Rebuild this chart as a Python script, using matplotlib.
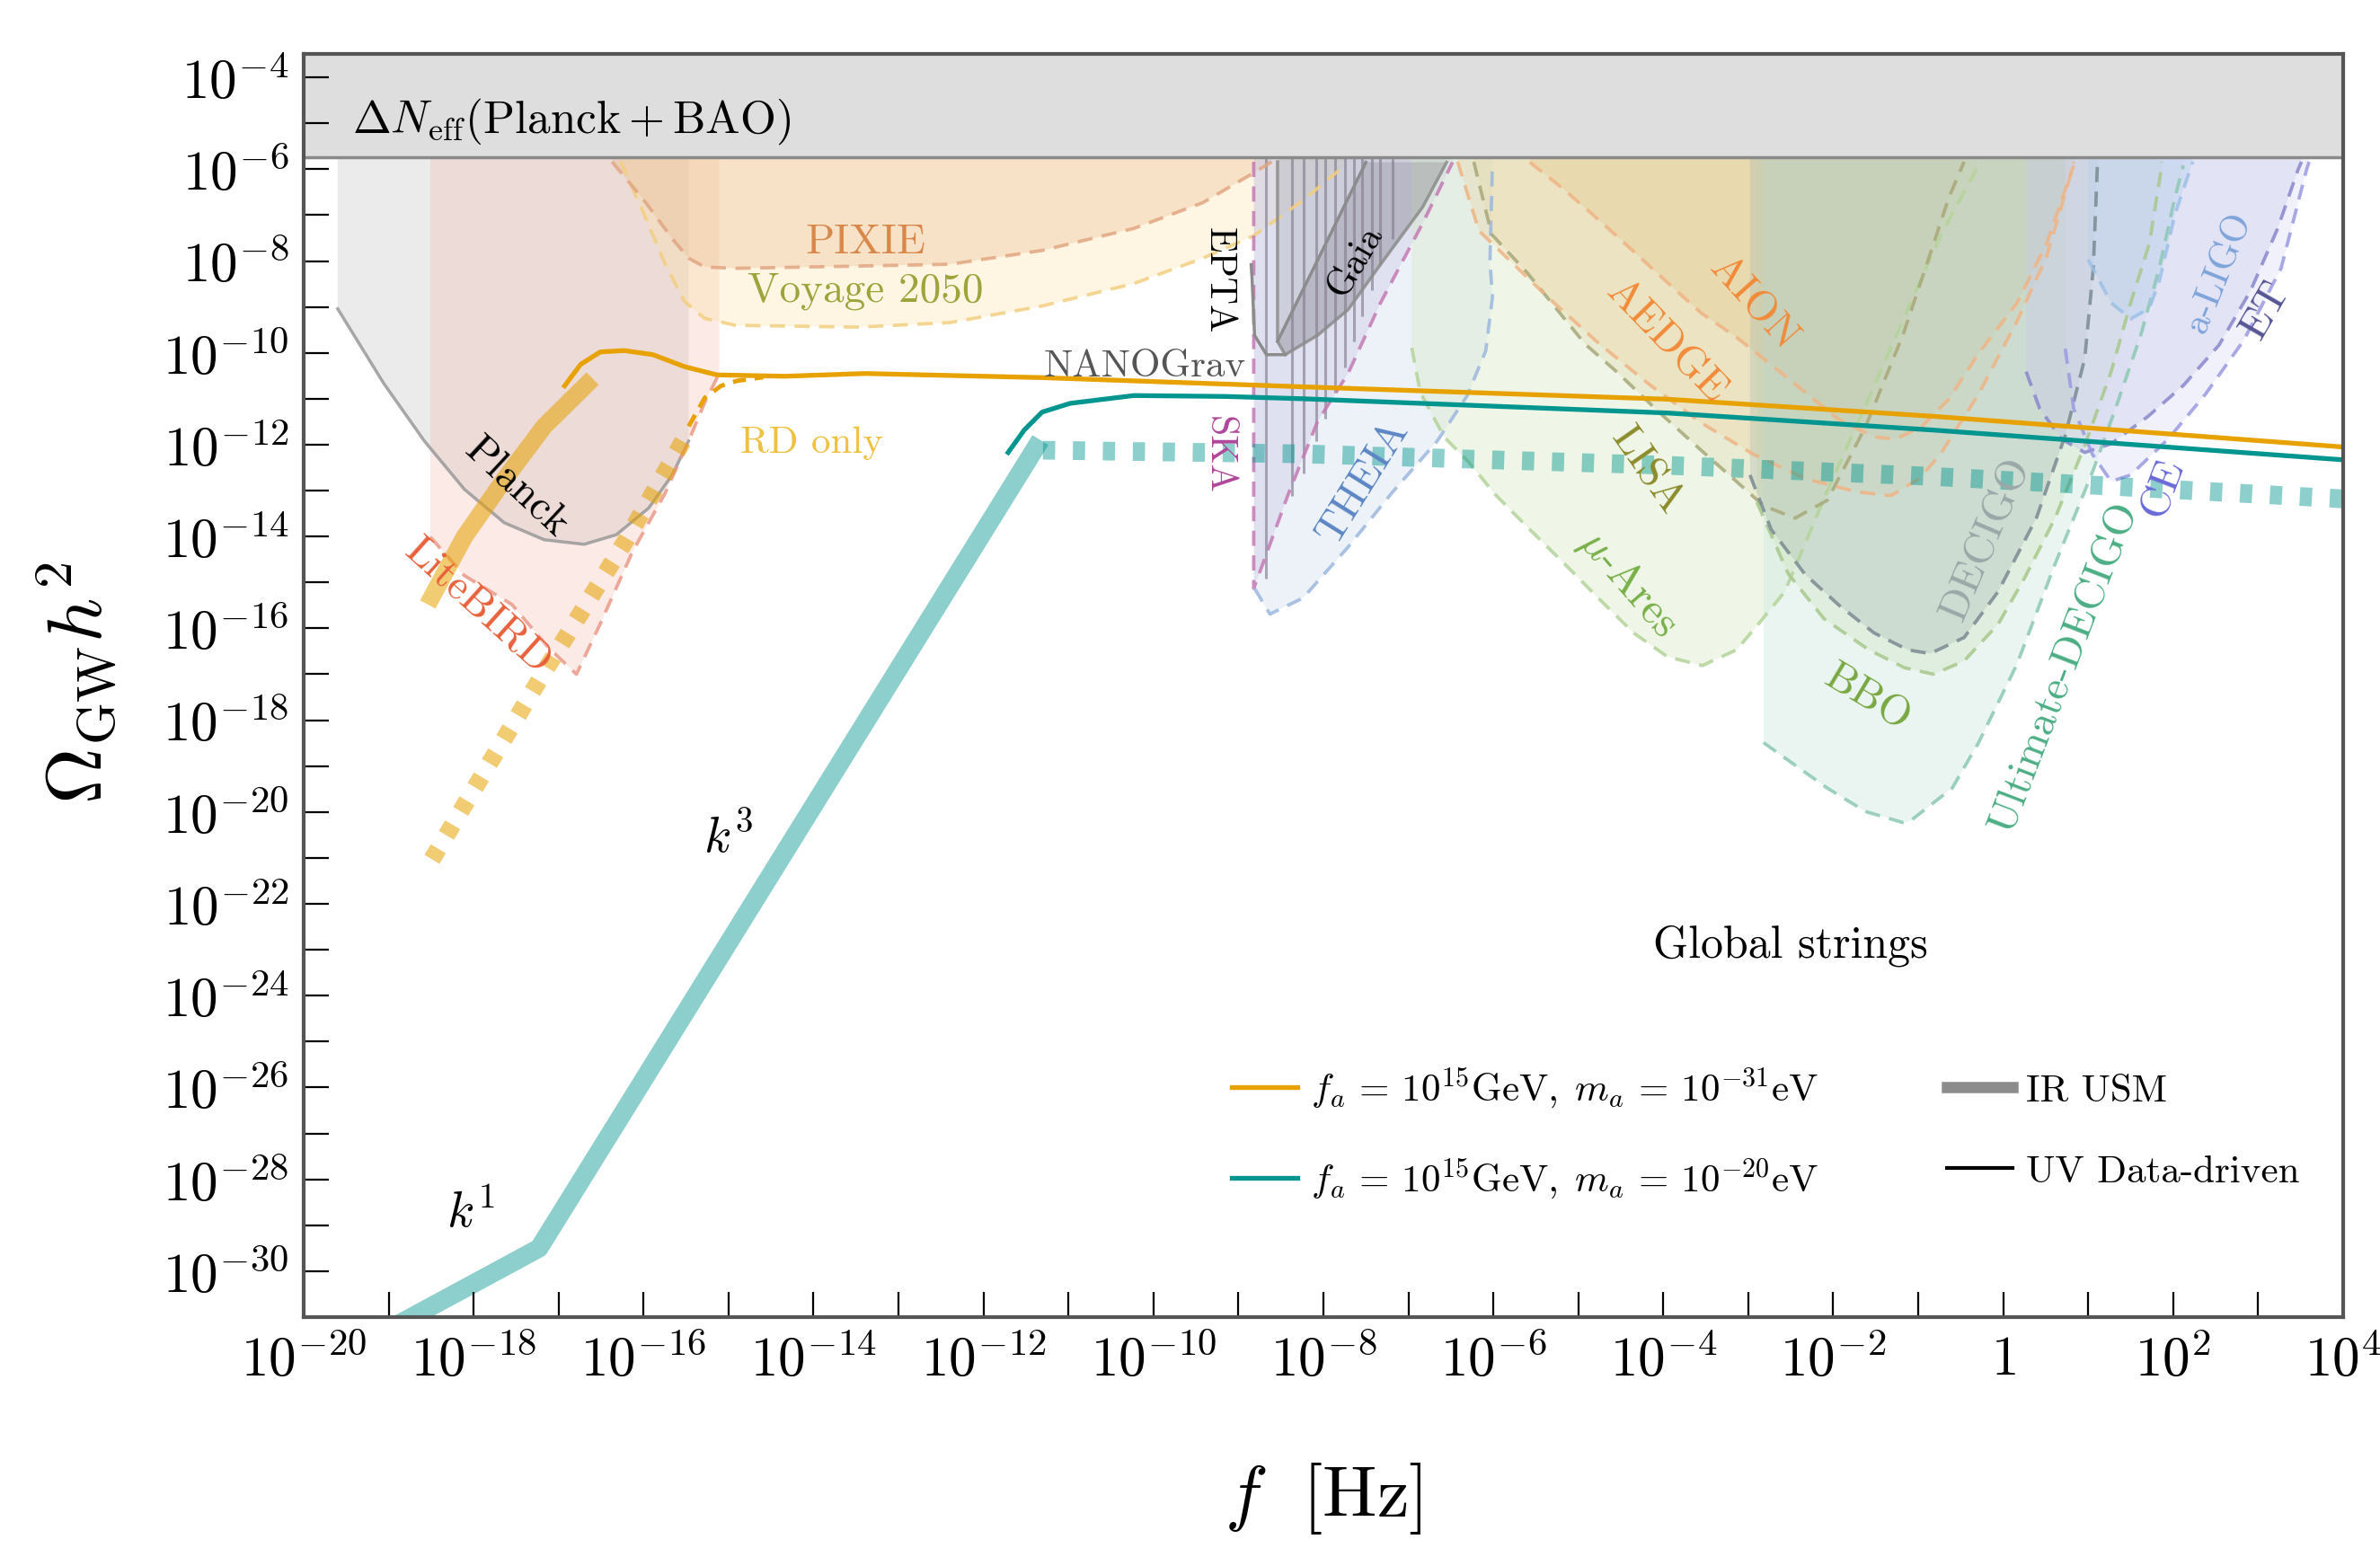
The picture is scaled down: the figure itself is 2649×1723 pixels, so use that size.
import numpy as np
import matplotlib.pyplot as plt
from matplotlib.lines import Line2D
from matplotlib.ticker import NullLocator

plt.rcParams['mathtext.fontset'] = 'cm'
plt.rcParams['font.family'] = 'cmr10'
plt.rcParams['axes.formatter.use_mathtext'] = True

# all values below are log10(f/Hz), log10(Omega_GW h^2)
TOP = -3.0          # regions are closed above the N_eff band
NEFF = -5.74        # Delta N_eff bound

# string spectra, m_a = 1e-31 eV (orange)
uv31_x = [-16.93, -16.74, -16.51, -16.23, -15.89, -15.52, -15.14, -14.34, -13.39, -11.31, -8.24, -3.95, -0.84, 4.0]
uv31_y = [-10.72, -10.25, -9.98, -9.95, -10.04, -10.30, -10.48, -10.51, -10.45, -10.54, -10.74, -11.01, -11.38, -12.05]
ir31_x = [-18.54, -18.11, -17.64, -17.17, -16.60]
ir31_y = [-15.48, -14.01, -12.76, -11.60, -10.56]
rd31_x = [-18.49, -17.17, -16.22, -15.47]
rd31_y = [-21.03, -16.95, -14.12, -11.71]
rdt31_x = [-15.47, -15.28, -15.09, -14.90, -14.59]
rdt31_y = [-11.60, -10.98, -10.72, -10.61, -10.53]

# string spectra, m_a = 1e-20 eV (teal)
uv20_x = [-11.71, -11.52, -11.31, -10.98, -10.23, -9.15, -8.24, -3.95, -0.84, 4.0]
uv20_y = [-12.17, -11.68, -11.29, -11.10, -10.93, -10.95, -11.00, -11.31, -11.68, -12.33]
ir20_x = [-19.0, -17.23, -11.33]
ir20_y = [-31.27, -29.50, -11.90]
rd20_x = [-11.30, -8.24, -3.95, -0.84, 4.0]
rd20_y = [-12.12, -12.20, -12.45, -12.69, -13.18]

# sensitivity curves
planck_x = [-19.60, -19.06, -18.58, -18.11, -17.64, -17.17, -16.70, -16.32, -15.94, -15.66, -15.47]
planck_y = [-9.04, -10.66, -11.92, -12.97, -13.70, -14.07, -14.17, -13.96, -13.38, -12.65, -11.92]
litebird_x = [-18.51, -18.11, -17.55, -17.12, -16.79, -16.51, -16.13, -15.75, -15.47, -15.28, -15.11]
litebird_y = [-14.01, -14.85, -15.48, -16.42, -17.00, -15.90, -14.33, -13.07, -11.92, -11.08, -10.45]
pixie_x = [-16.37, -15.99, -15.66, -15.47, -15.28, -14.92, -13.47, -12.39, -11.31, -10.23, -9.42, -8.82, -8.61]
pixie_y = [-5.84, -6.69, -7.52, -7.94, -8.13, -8.16, -8.11, -8.07, -7.77, -7.29, -6.73, -6.08, -5.84]
voyage_x = [-16.27, -15.99, -15.75, -15.52, -15.28, -14.92, -13.47, -12.39, -11.31, -10.23, -9.42, -8.82, -8.24, -7.75]
voyage_y = [-5.84, -7.00, -8.05, -8.88, -9.25, -9.40, -9.44, -9.34, -8.98, -8.49, -7.94, -7.45, -6.68, -5.92]
ska_x = [-8.82, -8.82, -8.68, -8.42, -8.07, -7.71, -7.33, -6.83, -6.48]
ska_y = [-5.84, -15.13, -14.43, -13.11, -11.50, -10.45, -8.92, -7.17, -5.85]
nanograv_x = [-8.68, -8.37, -8.23, -8.08, -7.98, -7.86, -7.75, -7.64, -7.54, -7.43, -7.33, -7.19]
nanograv_y = [-14.92, -13.11, -12.62, -11.92, -11.43, -10.87, -10.31, -9.76, -9.20, -8.64, -8.08, -7.52]
gaia_x = [-8.54, -8.54, -8.45, -8.07, -7.71, -7.33, -6.83, -6.55]
gaia_y = [-5.84, -9.75, -10.04, -9.62, -9.06, -8.08, -6.82, -5.85]
gaia_in_x = [-8.54, -7.50]
gaia_in_y = [-9.75, -5.85]
epta_x = [-8.85, -8.84, -8.81, -8.67, -8.45]
epta_y = [-8.08, -8.36, -9.62, -10.04, -10.04]
theia_x = [-8.81, -8.63, -8.24, -7.71, -7.19, -6.66, -6.31, -6.09, -6.01, -6.04, -6.01]
theia_y = [-15.13, -15.69, -15.34, -14.23, -13.04, -11.92, -10.94, -9.96, -8.78, -8.01, -5.84]
mu_ares_x = [-6.96, -6.86, -6.58, -6.30, -5.97, -5.57, -5.16, -4.76, -4.35, -3.95, -3.54, -3.14,
             -2.90, -2.57, -2.07, -1.49, -1.09, -0.73, -0.29]
mu_ares_y = [-9.89, -10.86, -11.83, -12.36, -13.10, -13.85, -14.60, -15.35, -16.10, -16.62, -16.81, -16.47,
             -15.95, -15.20, -13.01, -10.61, -8.91, -7.42, -5.92]
lisa_x = [-6.23, -6.02, -5.60, -5.28, -4.92, -4.55, -4.04, -3.55, -3.14, -2.82, -2.45, -2.07, -1.62, -1.18, -0.91, -0.64, -0.46]
lisa_y = [-5.84, -7.42, -8.26, -8.99, -9.81, -10.41, -11.31, -12.13, -12.80, -13.33, -13.60, -13.21, -11.61, -9.61, -8.13, -6.62, -5.84]
aedge_x = [-6.42, -6.17, -5.37, -4.75, -4.15, -3.55, -2.94, -2.33, -1.72, -1.32, -0.99, -0.74, -0.29, 0.16, 0.51, 0.78, 0.83]
aedge_y = [-5.84, -7.34, -8.77, -9.81, -10.71, -11.53, -12.21, -12.74, -13.03, -13.11, -12.74, -12.21, -10.90, -9.32, -7.91, -6.21, -5.84]
aion_x = [-5.57, -5.17, -4.75, -4.35, -3.95, -3.55, -3.14, -2.73, -2.33, -1.93, -1.52, -1.27, -0.96, -0.64, -0.29, 0.16, 0.51, 0.83]
aion_y = [-5.85, -6.44, -7.12, -7.79, -8.47, -9.14, -9.66, -10.26, -10.86, -11.46, -11.83, -11.88, -11.61, -11.01, -10.01, -8.92, -7.62, -5.92]
udecigo_x = [-2.82, -2.51, -2.07, -1.62, -1.18, -1.09, -0.60, -0.29, 0.16, 0.61, 1.05, 1.32, 1.62, 1.84, 2.02, 2.12]
udecigo_y = [-18.49, -18.90, -19.48, -19.99, -20.23, -20.19, -19.48, -18.49, -16.79, -14.60, -12.60, -11.22, -9.61, -8.13, -6.62, -5.92]
bbo_x = [-2.90, -2.53, -2.11, -1.58, -1.16, -0.82, -0.46, -0.06, 0.25, 0.61, 0.96, 1.27, 1.50, 1.72, 1.84, 1.87]
bbo_y = [-13.25, -14.81, -15.79, -16.47, -16.86, -17.00, -16.71, -15.91, -14.91, -13.60, -12.02, -10.41, -8.91, -7.62, -6.23, -5.84]
decigo_x = [-2.98, -2.73, -2.33, -1.93, -1.52, -1.12, -0.86, -0.46, -0.06, 0.39, 0.73, 0.96, 1.06, 1.11]
decigo_y = [-12.66, -13.85, -14.83, -15.50, -16.10, -16.47, -16.55, -16.20, -15.20, -13.60, -11.80, -10.12, -8.16, -5.84]
et_x = [0.27, 0.43, 0.69, 0.96, 1.27, 1.70, 2.12, 2.54, 2.91, 3.23, 3.47, 3.51]
et_y = [-10.41, -11.22, -11.88, -12.17, -11.98, -11.39, -10.71, -9.83, -8.65, -7.29, -6.01, -5.84]
ce_x = [0.73, 0.83, 1.05, 1.27, 1.50, 1.94, 2.38, 2.83, 3.27, 3.57, 3.60]
ce_y = [-9.91, -11.22, -12.21, -12.80, -12.66, -11.88, -10.90, -9.73, -8.16, -6.01, -5.84]
ligo_x = [1.00, 1.27, 1.50, 1.72, 1.84, 2.02, 2.23]
ligo_y = [-7.97, -8.91, -9.26, -9.03, -8.42, -6.99, -5.84]

ORANGE = '#e8a200'
TEAL = '#00968f'

fig = plt.figure(figsize=(26.49, 17.24), dpi=100)
ax = fig.add_axes([0.1276, 0.1491, 0.8569, 0.8155])


def p(v):
    return 10.0 ** np.asarray(v)


def region(x, y, fc, ec, a=0.35, solid=False, lw=2.7):
    px = [x[0]] + list(x) + [x[-1]]
    py = [TOP] + list(y) + [TOP]
    ax.fill(p(px), p(py), color=fc, alpha=a, lw=0, zorder=1)
    ls = '-' if solid else (0, (4.5, 2.8))
    ax.plot(p(x), p(y), color=ec, lw=lw, ls=ls, alpha=0.85, zorder=1.8)


region(planck_x, planck_y, '#c8c8c8', '#999999', a=0.35, solid=True, lw=2.5)
region(litebird_x, litebird_y, '#f2b4a2', '#eb9a88', a=0.28)
region(voyage_x, voyage_y, '#fde2a0', '#f3cf80', a=0.3)
region(pixie_x, pixie_y, '#e8b68a', '#e2a682', a=0.3)
region(ska_x, ska_y, '#c6b2da', '#c47ab4', a=0.35)
ax.vlines(p(nanograv_x), p(nanograv_y), p(TOP), color='#847e90', lw=2.2, alpha=0.65, zorder=1.6)
region(gaia_x, gaia_y, '#8c8c8c', '#8c8c8c', a=0.28, solid=True, lw=2.5)
ax.plot(p(gaia_in_x), p(gaia_in_y), color='#8c8c8c', lw=2.5, zorder=1.8)
ax.fill(p(gaia_in_x + gaia_x[2:][::-1]), p(gaia_in_y + gaia_y[2:][::-1]),
        color='#6e6878', alpha=0.22, lw=0, zorder=1.5)
ax.plot(p(epta_x), p(epta_y), color='#8c8c8c', lw=2.5, zorder=1.8)
region(theia_x, theia_y, '#c8d8ec', '#9cb8de', a=0.32)
region(mu_ares_x, mu_ares_y, '#d6e8c4', '#b4d49a', a=0.38)
region(lisa_x, lisa_y, '#dcd8a0', '#a8a878', a=0.3)
region(aedge_x, aedge_y, '#f0d09c', '#f0b484', a=0.3)
region(aion_x, aion_y, '#e6c488', '#f0b484', a=0.3)
region(udecigo_x, udecigo_y, '#cce8e0', '#8cc8b4', a=0.4)
region(bbo_x, bbo_y, '#c8e0b0', '#a8c88c', a=0.3)
region(decigo_x, decigo_y, '#a8b8b4', '#7a8a92', a=0.32)
region(et_x, et_y, '#c8c8ec', '#8888cc', a=0.38)
region(ce_x, ce_y, '#d8d8f6', '#9a9ae2', a=0.35)
region(ligo_x, ligo_y, '#b8d0ec', '#9cc0e8', a=0.4)

# Delta N_eff band
ax.axhspan(p(NEFF), 1e-2, color='#dedede', zorder=3)
ax.axhline(p(NEFF), color='#8a8a8a', lw=2.5, zorder=3.1)
ax.text(p(-19.43), p(-4.94), r'$\Delta N_{\rm eff}(\mathrm{Planck}+\mathrm{BAO})$',
        fontsize=37, ha='left', va='center', zorder=6)

# spectra
ax.plot(p(ir31_x), p(ir31_y), color=ORANGE, alpha=0.55, lw=14, solid_capstyle='butt', zorder=4)
ax.plot(p(rd31_x), p(rd31_y), color=ORANGE, alpha=0.55, lw=14, dashes=(0.7, 0.9), zorder=4)
ax.plot(p(rdt31_x), p(rdt31_y), color=ORANGE, lw=3.5, dashes=(3, 2), zorder=4)
ax.plot(p(uv31_x), p(uv31_y), color=ORANGE, lw=3.8, zorder=4.2)
ax.plot(p(ir20_x), p(ir20_y), color=TEAL, alpha=0.45, lw=15, solid_capstyle='butt', zorder=4)
ax.plot(p(rd20_x), p(rd20_y), color=TEAL, alpha=0.45, lw=15, dashes=(0.65, 0.95), zorder=4)
ax.plot(p(uv20_x), p(uv20_y), color=TEAL, lw=3.8, zorder=4.2)

# labels
kw = dict(ha='center', va='center', rotation_mode='anchor', zorder=6)
ax.text(p(-13.39), p(-7.58), 'PIXIE', color='#d8884a', fontsize=34, **kw)
ax.text(p(-13.39), p(-8.63), 'Voyage 2050', color='#9ea43c', fontsize=34, **kw)
ax.text(p(-17.50), p(-12.93), 'Planck', color='black', fontsize=34, rotation=-43, **kw)
ax.text(p(-17.95), p(-15.51), 'LiteBIRD', color='#e8603a', fontsize=34, rotation=-42, **kw)
ax.text(p(-14.02), p(-11.94), 'RD only', color='#f0c040', fontsize=31, **kw)
ax.text(p(-15.0), p(-20.53), r'$k^3$', color='black', fontsize=40, **kw)
ax.text(p(-18.03), p(-28.72), r'$k^1$', color='black', fontsize=40, **kw)
ax.text(p(-9.23), p(-8.41), 'EPTA', color='black', fontsize=30, rotation=-90, **kw)
ax.text(p(-10.10), p(-10.29), 'NANOGrav', color='#555555', fontsize=31, **kw)
ax.text(p(-9.23), p(-12.21), 'SKA', color='#b0479a', fontsize=30, rotation=-90, **kw)
ax.text(p(-7.62), p(-7.98), 'Gaia', color='black', fontsize=30, rotation=60, **kw)
ax.text(p(-7.53), p(-12.80), 'THEIA', color='#5b86c4', fontsize=34, rotation=58, **kw)
ax.text(p(-4.42), p(-15.0), r'$\mu$-Ares', color='#78b048', fontsize=35, rotation=-49, **kw)
ax.text(p(-4.19), p(-12.54), 'LISA', color='#8c8c2c', fontsize=34, rotation=-55, **kw)
ax.text(p(-3.96), p(-9.73), 'AEDGE', color='#f28a38', fontsize=34, rotation=-46, **kw)
ax.text(p(-2.94), p(-8.91), 'AION', color='#f28a38', fontsize=34, rotation=-48, **kw)
ax.text(p(-0.21), p(-14.03), 'DECIGO', color='#9aa8a8', fontsize=34, rotation=67, **kw)
ax.text(p(-1.60), p(-17.49), 'BBO', color='#78a840', fontsize=34, rotation=-31, **kw)
ax.text(p(0.72), p(-16.83), 'Ultimate-DECIGO', color='#4cae84', fontsize=34, rotation=69, **kw)
ax.text(p(1.88), p(-12.93), 'CE', color='#6a6ad8', fontsize=34, rotation=69, **kw)
ax.text(p(2.54), p(-8.24), 'a-LIGO', color='#7ea4da', fontsize=30, rotation=68, **kw)
ax.text(p(3.09), p(-9.06), 'ET', color='#555595', fontsize=34, rotation=60, **kw)
ax.text(p(-2.50), p(-22.90), 'Global strings', color='black', fontsize=36, **kw)

# axes
ax.set_xscale('log')
ax.set_yscale('log')
ax.set_xlim(1e-20, 1e4)
ax.set_ylim(1e-31, p(-3.49))
xe = np.arange(-20, 5)
ye = np.arange(-31, -3)


def lab(e):
    if e % 2:
        return ''
    return '$1$' if e == 0 else r'$10^{%d}$' % e


ax.set_xticks(p(xe), [lab(e) for e in xe])
ax.set_yticks(p(ye), [lab(e) for e in ye])
ax.xaxis.set_minor_locator(NullLocator())
ax.yaxis.set_minor_locator(NullLocator())
ax.tick_params(direction='in', length=20, width=1.6, labelsize=44, top=False, right=False)
ax.tick_params(axis='x', pad=14)
ax.tick_params(axis='y', pad=12)
ax.xaxis.set_zorder(5)
ax.yaxis.set_zorder(5)
for s in ax.spines.values():
    s.set_linewidth(3)
    s.set_color('#555555')
    s.set_zorder(7)

ax.set_xlabel(r'$f\ \ [\mathrm{Hz}]$', fontsize=58)
ax.xaxis.set_label_coords(0.5, -0.113)
ax.set_ylabel(r'$\Omega_{\rm GW}h^2$', fontsize=62)
ax.yaxis.set_label_coords(-0.091, 0.503)

handles = [Line2D([], [], color=ORANGE, lw=3.8), Line2D([], [], color=TEAL, lw=3.8),
           Line2D([], [], color='#8c8c8c', lw=9), Line2D([], [], color='black', lw=3)]
labels = [r'$f_a\,=\,10^{15}\mathrm{GeV},\;m_a\,=\,10^{-31}\mathrm{eV}$',
          r'$f_a\,=\,10^{15}\mathrm{GeV},\;m_a\,=\,10^{-20}\mathrm{eV}$',
          'IR USM', 'UV Data-driven']
ax.legend(handles, labels, ncol=2, loc='upper left', bbox_to_anchor=(0.455, 0.199),
          frameon=False, fontsize=31, handlelength=1.7, handletextpad=0.35,
          columnspacing=3.3, labelspacing=1.2, borderpad=0, borderaxespad=0)

fig.savefig('out.png', dpi=100)
